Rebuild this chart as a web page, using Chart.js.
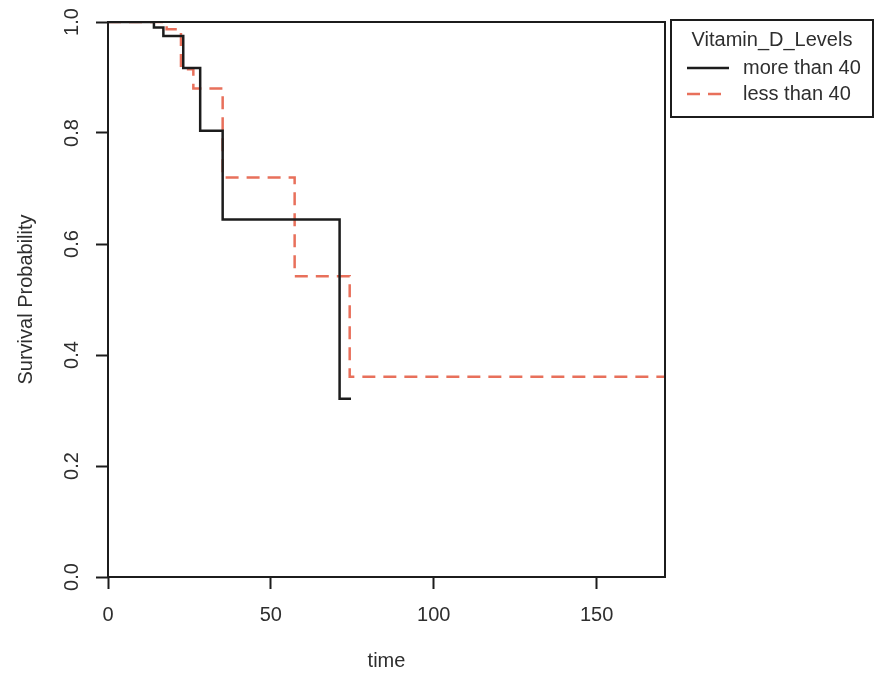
<!DOCTYPE html>
<html>
<head>
<meta charset="utf-8">
<script src="https://cdn.jsdelivr.net/npm/chart.js@4.4.1/dist/chart.umd.min.js"></script>
<style>
  html, body { margin: 0; padding: 0; background: #fff; }
  #wrap { width: 877px; height: 673px; position: relative; }
</style>
</head>
<body>
<div id="wrap"><canvas id="myChart" width="877" height="673"></canvas></div>
<script>
// Kaplan-Meier step points
let moreTimes = [0, 14.1, 17.0, 23.1, 28.3, 35.2, 71.1, 74.6];
let moreSurv  = [1, 0.99, 0.975, 0.917, 0.804, 0.644, 0.321, 0.321];

let lessTimes = [0, 18.0, 22.4, 26.2, 35.2, 57.3, 74.2, 171];
let lessSurv  = [1, 0.987, 0.915, 0.88, 0.72, 0.542, 0.361, 0.361];

let groupLabels = ['more than 40', 'less than 40'];
let legendTitle = 'Vitamin_D_Levels';
let xTicks = [0, 50, 100, 150];
let yTicks = [0, 0.2, 0.4, 0.6, 0.8, 1.0];

let lineBlack = '#1c1c1c';
let lineRed = '#e8705b';
let textColor = '#2e2e2e';
let fontFamily = '"Liberation Sans", Arial, Helvetica, sans-serif';

function toPoints(xs, ys) {
    let pts = [];
    for (let i = 0; i < xs.length; i++) {
        pts.push({ x: xs[i], y: ys[i] });
    }
    return pts;
}

// box around plot + legend drawn outside the plot region, like R's xpd legend
let boxAndLegend = {
    id: 'boxAndLegend',
    afterDraw(chart) {
        let ctx = chart.ctx;
        let a = chart.chartArea;
        ctx.save();
        ctx.strokeStyle = lineBlack;
        ctx.lineWidth = 2;
        ctx.strokeRect(a.left, a.top, a.right - a.left, a.bottom - a.top);

        // legend
        let lx = 671, ly = 20, lw = 202, lh = 97;
        ctx.strokeRect(lx, ly, lw, lh);
        ctx.fillStyle = textColor;
        ctx.font = '20px ' + fontFamily;
        ctx.textBaseline = 'middle';
        ctx.textAlign = 'center';
        ctx.fillText(legendTitle, lx + lw / 2, 40);

        ctx.textAlign = 'left';
        ctx.lineWidth = 2.5;
        let rows = [
            { y: 68, color: lineBlack, dash: [] },
            { y: 94, color: lineRed, dash: [13, 8] }
        ];
        for (let i = 0; i < rows.length; i++) {
            ctx.beginPath();
            ctx.setLineDash(rows[i].dash);
            ctx.strokeStyle = rows[i].color;
            ctx.moveTo(687, rows[i].y);
            ctx.lineTo(729, rows[i].y);
            ctx.stroke();
            ctx.setLineDash([]);
            ctx.fillText(groupLabels[i], 743, rows[i].y);
        }
        ctx.restore();
    }
};

let ctx = document.getElementById('myChart').getContext('2d');

let myChart = new Chart(ctx, {
    type: 'line',
    data: {
        datasets: [{
            label: groupLabels[0],
            data: toPoints(moreTimes, moreSurv),
            borderColor: lineBlack,
            borderWidth: 2.5,
            pointRadius: 0,
            stepped: true,
            fill: false
        }, {
            label: groupLabels[1],
            data: toPoints(lessTimes, lessSurv),
            borderColor: lineRed,
            borderWidth: 2.5,
            borderDash: [13, 8],
            pointRadius: 0,
            stepped: true,
            fill: false
        }]
    },
    options: {
        responsive: false,
        animation: false,
        layout: { padding: { top: 20, right: 212, left: 0, bottom: 0 } },
        plugins: {
            legend: { display: false },
            tooltip: { enabled: false }
        },
        scales: {
            x: {
                type: 'linear',
                min: 0,
                max: 171,
                afterFit: function(scale) { scale.height = 96; },
                afterBuildTicks: function(scale) {
                    scale.ticks = xTicks.map(v => ({ value: v }));
                },
                border: { display: false },
                grid: {
                    drawOnChartArea: false,
                    drawTicks: true,
                    tickLength: 12,
                    tickWidth: 2,
                    tickColor: lineBlack
                },
                ticks: {
                    color: textColor,
                    font: { size: 20, family: fontFamily },
                    padding: 14,
                    maxRotation: 0,
                    includeBounds: false
                },
                title: {
                    display: true,
                    text: 'time',
                    color: textColor,
                    font: { size: 20, family: fontFamily },
                    padding: { top: 0, bottom: 0 }
                }
            },
            y: {
                min: 0,
                max: 1,
                afterFit: function(scale) { scale.width = 108; },
                afterBuildTicks: function(scale) {
                    scale.ticks = yTicks.map(v => ({ value: v }));
                },
                border: { display: false },
                grid: {
                    drawOnChartArea: false,
                    drawTicks: true,
                    tickLength: 12,
                    tickWidth: 2,
                    tickColor: lineBlack
                },
                ticks: {
                    color: textColor,
                    font: { size: 20, family: fontFamily },
                    padding: 10,
                    minRotation: 90,
                    maxRotation: 90,
                    crossAlign: 'center',
                    callback: function(v) { return Number(v).toFixed(1); }
                },
                title: {
                    display: true,
                    text: 'Survival Probability',
                    color: textColor,
                    font: { size: 20, family: fontFamily },
                    padding: { top: 14, bottom: 0 }
                }
            }
        }
    },
    plugins: [boxAndLegend]
});
</script>
</body>
</html>
